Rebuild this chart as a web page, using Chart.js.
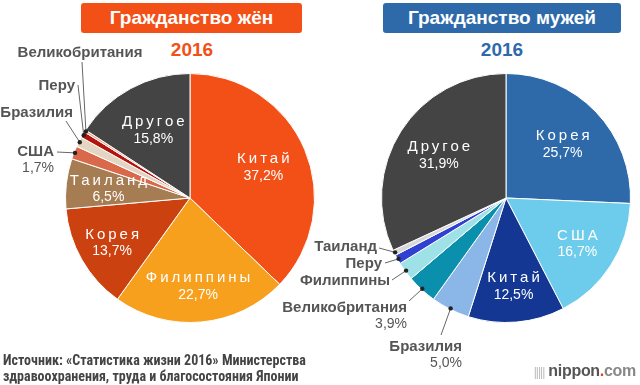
<!DOCTYPE html>
<html>
<head>
<meta charset="utf-8">
<script src="https://cdn.jsdelivr.net/npm/chart.js@4/dist/chart.umd.min.js"></script>
<style>
  body { margin: 0; background: #fff; font-family: "Liberation Sans", Arial, sans-serif; }
  #wrap { position: relative; width: 640px; height: 385px; overflow: hidden; }
  #wrap canvas { position: absolute; left: 0; top: 0; }
  .tbox { position: absolute; top: 3px; height: 30px; line-height: 30px; border-radius: 3px;
          color: #fff; font-weight: bold; font-size: 19px; text-align: center; }
  .year { position: absolute; top: 39px; width: 100px; text-align: center; font-weight: bold; font-size: 19px; }
  .src { position: absolute; left: 3px; top: 352px; font-family: "Liberation Sans Narrow", "Roboto Condensed", "Liberation Sans", sans-serif;
         font-weight: bold; font-size: 14px; line-height: 16px; color: #444; }
  .logo { position: absolute; right: 4px; top: 362px; font-weight: bold; font-size: 16px; color: #555; letter-spacing: -0.3px; }
  .logo .bars { color: #bbb; font-weight: normal; font-size: 12px; letter-spacing: -1px; margin-right: 4px; }
</style>
</head>
<body>
<div id="wrap">
  <div class="tbox" style="left:81px;width:221px;background:#f25016;">Гражданство жён</div>
  <div class="tbox" style="left:383px;width:238px;background:#2e6aaa;">Гражданство мужей</div>
  <div class="year" style="left:142px;color:#f25016;">2016</div>
  <div class="year" style="left:452px;color:#2e6aaa;">2016</div>
  <canvas id="women" width="640" height="385"></canvas>
  <canvas id="men" width="640" height="385"></canvas>
  <div class="src">Источник: «Статистика жизни 2016» Министерства<br>здравоохранения, труда и благосостояния Японии</div>
  <div class="logo"><span class="bars">|||||</span>nippon<span style="color:#e8401c">.</span><span style="color:#888">com</span></div>
</div>
<script>
// жёны (по часовой стрелке от 12 часов)
const womenLabels = ['Китай', 'Филиппины', 'Корея', 'Таиланд', 'США', 'Бразилия', 'Перу', 'Великобритания', 'Другое'];
const womenValues = [37.2, 22.7, 13.7, 6.5, 1.7, 1.3, 0.8, 0.3, 15.8];
const womenColors = ['#f25016', '#f7a01e', '#cc4110', '#a67c52', '#d9694a', '#e3d5c1', '#b3140f', '#f5a582', '#444444'];

// мужья
const menLabels = ['Корея', 'США', 'Китай', 'Бразилия', 'Великобритания', 'Филиппины', 'Перу', 'Таиланд', 'Другое'];
const menValues = [25.7, 16.7, 12.5, 5.0, 3.9, 2.4, 1.2, 0.7, 31.9];
const menColors = ['#2e6aaa', '#6dcbeb', '#143793', '#8ab6e8', '#0a8fad', '#9ee2e8', '#3040d0', '#d8d8d8', '#444444'];

// где рисовать подписи: r = доля радиуса внутри, иначе текст снаружи с выноской
const womenLayout = [
  { r: 0.64 }, { r: 0.71 }, { r: 0.72 }, { r: 0.66 },
  { tx: 54, ty: 152, align: 'right', pct: true, lx: 57, ly: 152 },
  { tx: 73, ty: 113, align: 'right', lx: 66, ly: 121 },
  { tx: 75, ty: 86, align: 'right', lx: 78, ly: 85 },
  { tx: 80, ty: 53, align: 'center', lx: 82, ly: 62 },
  { r: 0.62 }
];
const menLayout = [
  { r: 0.63 }, { r: 0.68 }, { r: 0.71 },
  { tx: 462, ty: 347, align: 'right', pct: true, lx: 441, ly: 335 },
  { tx: 407, ty: 308, align: 'right', pct: true, lx: 409, ly: 301 },
  { tx: 390, ty: 281, align: 'right', lx: 392, ly: 280 },
  { tx: 382, ty: 264, align: 'right', lx: 385, ly: 263 },
  { tx: 377, ty: 247, align: 'right', lx: 379, ly: 248 },
  { r: 0.64 }
];

const FONT = '"Liberation Sans", Arial, sans-serif';

const sliceLabels = {
  id: 'sliceLabels',
  afterDatasetsDraw(chart, args, opts) {
    const ctx = chart.ctx;
    const meta = chart.getDatasetMeta(0);
    const values = chart.data.datasets[0].data;
    const names = chart.data.labels;
    ctx.save();
    ctx.textBaseline = 'middle';
    meta.data.forEach(function (arc, i) {
      const lay = opts.layout[i];
      const p = arc.getProps(['x', 'y', 'startAngle', 'endAngle', 'outerRadius'], true);
      const mid = (p.startAngle + p.endAngle) / 2;
      const pct = values[i].toFixed(1).replace('.', ',') + '%';
      if (lay.r) {
        const cx = p.x + Math.cos(mid) * p.outerRadius * lay.r;
        const cy = p.y + Math.sin(mid) * p.outerRadius * lay.r;
        ctx.fillStyle = '#fff';
        ctx.textAlign = 'center';
        ctx.font = '15px ' + FONT;
        ctx.letterSpacing = '3px';
        ctx.fillText(names[i], cx + 1.5, cy - 8);
        ctx.letterSpacing = '0px';
        ctx.font = '14px ' + FONT;
        ctx.fillText(pct, cx, cy + 9);
      } else {
        const dx = p.x + Math.cos(mid) * (p.outerRadius - 1);
        const dy = p.y + Math.sin(mid) * (p.outerRadius - 1);
        ctx.strokeStyle = '#666';
        ctx.lineWidth = 1;
        ctx.beginPath();
        ctx.moveTo(lay.lx, lay.ly);
        ctx.lineTo(dx, dy);
        ctx.stroke();
        ctx.fillStyle = '#222';
        ctx.beginPath();
        ctx.arc(dx, dy, 2.2, 0, Math.PI * 2);
        ctx.fill();
        ctx.fillStyle = '#555';
        ctx.textAlign = lay.align;
        ctx.letterSpacing = '0px';
        ctx.font = 'bold 15px ' + FONT;
        ctx.fillText(names[i], lay.tx, lay.ty);
        if (lay.pct) {
          ctx.font = '14px ' + FONT;
          ctx.fillText(pct, lay.tx, lay.ty + 16);
        }
      }
    });
    ctx.restore();
  }
};

function makePie(id, labels, values, colors, layout, padding) {
  new Chart(document.getElementById(id), {
    type: 'pie',
    data: {
      labels: labels,
      datasets: [{
        data: values,
        backgroundColor: colors,
        borderColor: '#fff',
        borderWidth: 1
      }]
    },
    options: {
      responsive: false,
      animation: false,
      events: [],
      layout: { padding: padding },
      plugins: {
        legend: { display: false },
        tooltip: { enabled: false },
        sliceLabels: { layout: layout }
      }
    },
    plugins: [sliceLabels]
  });
}

makePie('women', womenLabels, womenValues, womenColors, womenLayout, { left: 65, right: 325, top: 73, bottom: 62 });
makePie('men', menLabels, menValues, menColors, menLayout, { left: 381, right: 9, top: 73, bottom: 62 });
</script>
</body>
</html>
